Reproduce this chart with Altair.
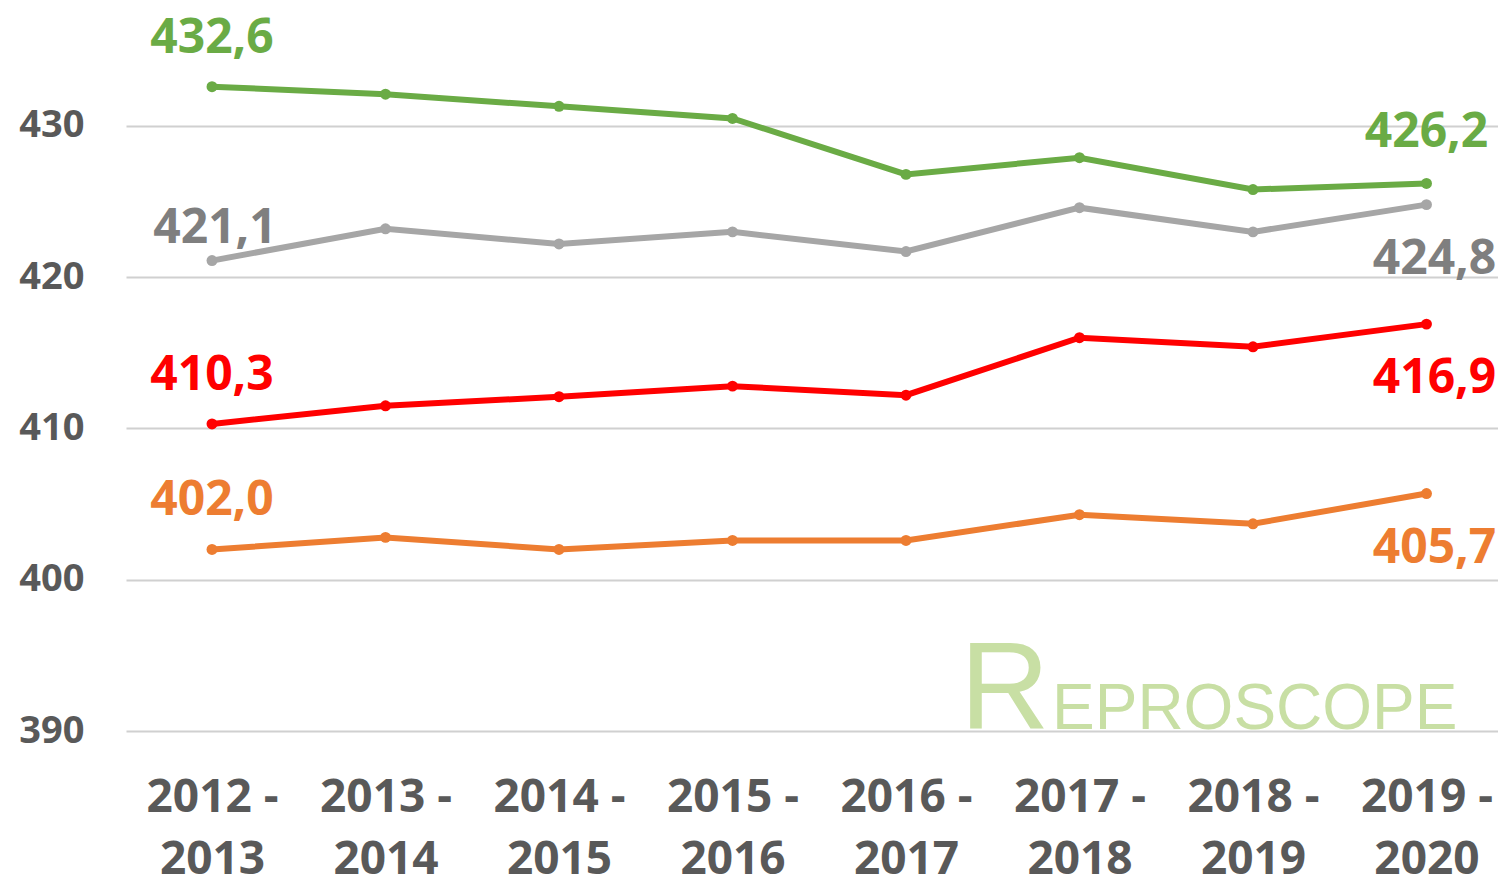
import altair as alt
import pandas as pd

seasons = ["2012 - 2013", "2013 - 2014", "2014 - 2015", "2015 - 2016",
           "2016 - 2017", "2017 - 2018", "2018 - 2019", "2019 - 2020"]
series_names = ["vert", "gris", "rouge", "orange"]
vert = [432.6, 432.1, 431.3, 430.5, 426.8, 427.9, 425.8, 426.2]
gris = [421.1, 423.2, 422.2, 423.0, 421.7, 424.6, 423.0, 424.8]
rouge = [410.3, 411.5, 412.1, 412.8, 412.2, 416.0, 415.4, 416.9]
orange = [402.0, 402.8, 402.0, 402.6, 402.6, 404.3, 403.7, 405.7]
colors = ["#6aab45", "#a6a6a6", "#ff0000", "#ed7d31"]
label_colors = ["#6aab45", "#7f7f7f", "#ff0000", "#ed7d31"]
y_ticks = [390, 400, 410, 420, 430]

rows = []
for name, vals in zip(series_names, [vert, gris, rouge, orange]):
    for s, v in zip(seasons, vals):
        rows.append({"serie": name, "saison": s, "valeur": v})
df = pd.DataFrame(rows)

lc = dict(zip(series_names, label_colors))

def fmt(v):
    return f"{v:.1f}".replace(".", ",")

def lab(name, vals, idx):
    return {"serie": name, "saison": seasons[idx], "valeur": vals[idx],
            "txt": fmt(vals[idx]), "tc": lc[name]}

first_above = pd.DataFrame([lab("vert", vert, 0), lab("rouge", rouge, 0), lab("orange", orange, 0)])
first_gray = pd.DataFrame([lab("gris", gris, 0)])
last_above = pd.DataFrame([lab("vert", vert, 7)])
last_below = pd.DataFrame([lab("gris", gris, 7), lab("rouge", rouge, 7), lab("orange", orange, 7)])

FONT = "Open Sans"
x_enc = alt.X("saison:N", sort=seasons,
              scale=alt.Scale(type="point", padding=0.454, align=0.546),
              axis=alt.Axis(title=None, domain=False, ticks=False, grid=False,
                            labelExpr="[slice(datum.value,0,6), slice(datum.value,7)]",
                            labelFont=FONT, labelFontSize=46, labelFontWeight="bold",
                            labelColor="#595959", labelPadding=44, labelLineHeight=62,
                            labelAngle=0, labelBaseline="top"))
y_enc = alt.Y("valeur:Q", scale=alt.Scale(domain=[390, 437.8], nice=False, zero=False),
              axis=alt.Axis(title=None, domain=False, ticks=False, values=y_ticks,
                            gridColor="#d0d0d0", gridWidth=2,
                            labelFont=FONT, labelFontSize=38, labelFontWeight="bold",
                            labelColor="#595959", labelPadding=42))
color_enc = alt.Color("serie:N", scale=alt.Scale(domain=series_names, range=colors), legend=None)

base = alt.Chart(df).encode(x=x_enc, y=y_enc, color=color_enc)
lines = base.mark_line(strokeWidth=6)
pts = base.mark_point(filled=True, size=120, opacity=1)

def text_layer(d, dx, dy):
    return alt.Chart(d).mark_text(font=FONT, fontSize=48, fontWeight="bold", dx=dx, dy=dy).encode(
        x=alt.X("saison:N", sort=seasons), y=alt.Y("valeur:Q"), text="txt:N",
        color=alt.Color("tc:N", scale=None))

t1 = text_layer(first_above, 0, -48)
t2 = text_layer(first_gray, 3, -32)
t3 = text_layer(last_above, 0, -50)
t4 = text_layer(last_below, 8, 55)

wm_df = pd.DataFrame({"t": ["R"], "u": ["EPROSCOPE"]})
wm1 = alt.Chart(wm_df).mark_text(font="Liberation Sans", fontSize=124, color="#c8dfa4",
                                 align="left", baseline="alphabetic").encode(
    x=alt.value(834), y=alt.value(721), text="t:N")
wm2 = alt.Chart(wm_df).mark_text(font="Liberation Sans", fontSize=64, color="#c8dfa4",
                                 align="left", baseline="alphabetic").encode(
    x=alt.value(926), y=alt.value(721), text="u:N")

chart = alt.layer(wm1, wm2, lines, pts, t1, t2, t3, t4).properties(
    width=1372, height=723,
    autosize=alt.AutoSizeParams(type="none"),
    padding={"left": 118, "top": 0, "right": 0, "bottom": 152},
).configure(background="white").configure_view(stroke=None)

chart.save("out.html", embed_options={"renderer": "svg", "actions": False})
